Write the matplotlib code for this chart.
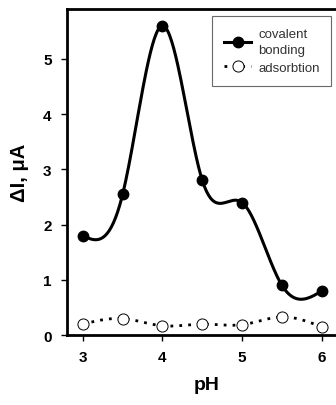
import numpy as np
import matplotlib.pyplot as plt

ph = [3.0, 3.5, 4.0, 4.5, 5.0, 5.5, 6.0]
covalent = [1.8, 2.55, 5.6, 2.8, 2.4, 0.9, 0.8]
adsorption = [0.2, 0.3, 0.17, 0.2, 0.19, 0.33, 0.15]


def smooth(x, y, n=40):
    # natural cubic spline through the points, like SigmaPlot's spline line
    x = np.asarray(x, float)
    y = np.asarray(y, float)
    k = len(x)
    h = np.diff(x)
    A = np.zeros((k, k))
    b = np.zeros(k)
    A[0, 0] = A[-1, -1] = 1
    for i in range(1, k - 1):
        A[i, i - 1] = h[i - 1]
        A[i, i] = 2 * (h[i - 1] + h[i])
        A[i, i + 1] = h[i]
        b[i] = 6 * ((y[i + 1] - y[i]) / h[i] - (y[i] - y[i - 1]) / h[i - 1])
    M = np.linalg.solve(A, b)
    xs, ys = [], []
    for i in range(k - 1):
        t = np.linspace(x[i], x[i + 1], n)
        a = x[i + 1] - t
        c = t - x[i]
        s = (M[i] * a**3 + M[i + 1] * c**3) / (6 * h[i]) \
            + (y[i] / h[i] - M[i] * h[i] / 6) * a + (y[i + 1] / h[i] - M[i + 1] * h[i] / 6) * c
        xs.append(t)
        ys.append(s)
    return np.concatenate(xs), np.concatenate(ys)


plt.rcParams['font.family'] = ['Liberation Sans', 'DejaVu Sans']

fig = plt.figure(figsize=(3.36, 4.06), dpi=100)
ax = fig.add_axes([0.199, 0.172, 0.83, 0.803])

sx, sy = smooth(ph, covalent)
ax.plot(sx, sy, color='black', lw=2.2, zorder=2)
ax.plot(ph, covalent, 'o', color='black', ms=7.5, zorder=3)
l1, = ax.plot([], [], '-o', color='black', lw=2.2, ms=7.5)

ax_x, ax_y = smooth(ph, adsorption)
ax.plot(ax_x, ax_y, color='black', lw=2, ls=(0, (1, 2.2)), zorder=2)
ax.plot(ph, adsorption, 'o', mfc='white', mec='black', mew=0.7, ms=8, zorder=3)
l2, = ax.plot([], [], 'o', mfc='white', mec='black', mew=0.7, ms=8, ls=(0, (1, 2.2)), color='black', lw=2)

ax.set_xlim(2.8, 6.3)
ax.set_ylim(0, 5.9)
ax.set_xticks([3, 4, 5, 6])
ax.set_yticks([0, 1, 2, 3, 4, 5])
for s in ['left', 'bottom', 'top', 'right']:
    ax.spines[s].set_linewidth(2)
ax.tick_params(direction='out', length=4, width=1, labelsize=11, pad=7)
for lab in ax.get_xticklabels() + ax.get_yticklabels():
    lab.set_fontweight('bold')

ax.set_xlabel('pH', fontsize=14, fontweight='bold', labelpad=8)
ax.set_ylabel('\u0394I, \u03bcA', fontsize=14.5, fontweight='bold', labelpad=10)

leg = ax.legend([l1, l2], ['covalent\nbonding', 'adsorbtion'], loc='upper left',
                bbox_to_anchor=(0.52, 0.978), fontsize=9.5, frameon=True, fancybox=False,
                handlelength=2.1, borderpad=0.9, labelspacing=0.4, handletextpad=0.5,
                borderaxespad=0)
leg.get_frame().set_edgecolor('#444444')
leg.get_frame().set_linewidth(0.8)
for t in leg.get_texts():
    t.set_color('#333333')
    t.set_linespacing(1.45)

fig.savefig('out.png', dpi=100)
